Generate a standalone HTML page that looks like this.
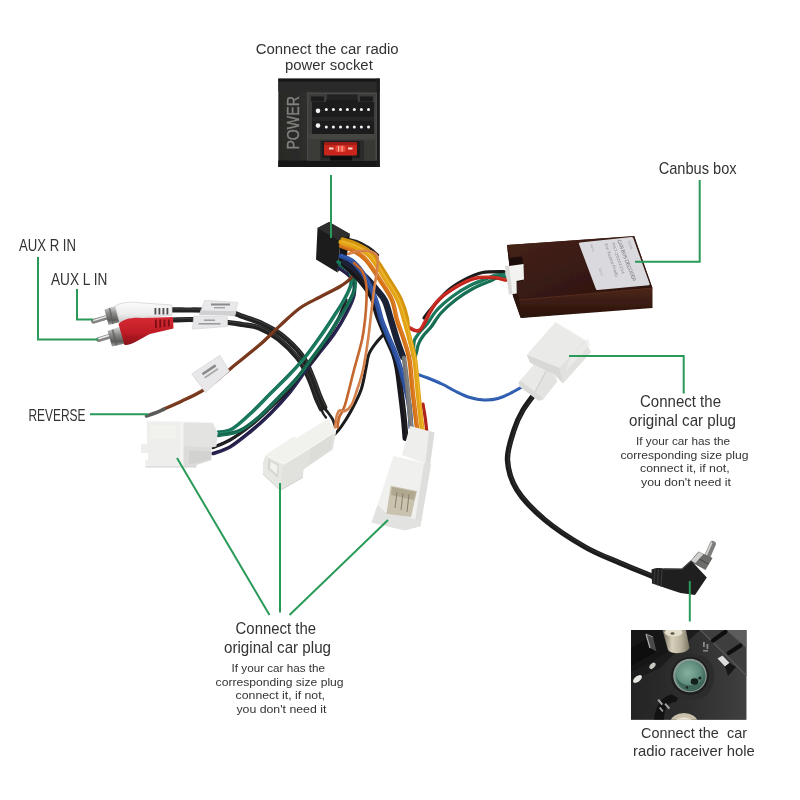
<!DOCTYPE html>
<html lang="en">
<head>
<meta charset="utf-8">
<title>Wiring harness connection guide</title>
<style>
html,body{margin:0;padding:0;background:#fff;}
body{width:800px;height:800px;overflow:hidden;position:relative;font-family:"Liberation Sans",sans-serif;}
svg{position:absolute;left:0;top:0;display:block;}
.t{font-family:"Liberation Sans",sans-serif;fill:#333;}
.g{stroke:#2a9a58;stroke-width:2;fill:none;}
.w{fill:none;stroke-linecap:round;stroke-linejoin:round;}
</style>
</head>
<body>
<svg width="800" height="800" viewBox="0 0 800 800">
<defs>
<linearGradient id="gWhite" x1="0" y1="0" x2="0" y2="1"><stop offset="0" stop-color="#f6f6f4"/><stop offset="1" stop-color="#dcdcd8"/></linearGradient>
<linearGradient id="gMetal" x1="0" y1="0" x2="0" y2="1"><stop offset="0" stop-color="#e8e8e8"/><stop offset=".5" stop-color="#9a9a9a"/><stop offset="1" stop-color="#d0d0d0"/></linearGradient>
<filter id="soft" x="-5%" y="-5%" width="110%" height="110%"><feGaussianBlur stdDeviation="0.6"/></filter>
</defs>
<rect width="800" height="800" fill="#fff"/>

<!-- ===== PHOTO / DRAWING LAYER ===== -->
<g id="art" filter="url(#soft)">
<g id="powerphoto">
<defs>
<linearGradient id="ppBg" x1="0" y1="0" x2="1" y2="0"><stop offset="0" stop-color="#282826"/><stop offset=".3" stop-color="#2e2e2c"/><stop offset="1" stop-color="#2a2a28"/></linearGradient>
</defs>
<rect x="278.3" y="78.6" width="101.4" height="88.4" fill="url(#ppBg)"/>
<rect x="278.3" y="78.6" width="101.4" height="3.2" fill="#181818"/>
<rect x="278.3" y="81.8" width="101.4" height="9.5" fill="#2c2c2a"/>
<rect x="278.3" y="160.5" width="101.4" height="6.5" fill="#161616"/>
<rect x="376.5" y="78.6" width="3.2" height="88.4" fill="#1e1e1e"/>
<!-- connector frame -->
<rect x="307" y="92.5" width="70" height="68" fill="#4a4a48"/>
<rect x="308.5" y="94" width="67" height="66" fill="#3c3c3a"/>
<rect x="311" y="96.5" width="13" height="5" fill="#1a1a1a"/>
<rect x="360" y="96.5" width="13" height="5" fill="#1a1a1a"/>
<rect x="327" y="94.5" width="30.5" height="8" fill="#222"/>
<!-- pin cavity -->
<rect x="312" y="102" width="62" height="32" fill="#1d1d1d"/>
<rect x="326" y="100" width="32" height="4" fill="#1d1d1d"/>
<rect x="312" y="117" width="62" height="4" fill="#262626"/>
<g fill="#f4f4f4">
<ellipse cx="318" cy="110.8" rx="2.3" ry="2.4"/><ellipse cx="318" cy="125.6" rx="2.3" ry="2.4"/>
<circle cx="326.3" cy="109.5" r="1.5"/><circle cx="333.4" cy="109.5" r="1.5"/><circle cx="340.5" cy="109.5" r="1.5"/><circle cx="347.4" cy="109.5" r="1.5"/><circle cx="354.3" cy="109.5" r="1.5"/><circle cx="361.4" cy="109.5" r="1.5"/><circle cx="368.5" cy="109.5" r="1.5"/>
<circle cx="326.3" cy="127" r="1.5"/><circle cx="333.4" cy="127" r="1.5"/><circle cx="340.5" cy="127" r="1.5"/><circle cx="347.4" cy="127" r="1.5"/><circle cx="354.3" cy="127" r="1.5"/><circle cx="361.4" cy="127" r="1.5"/><circle cx="368.5" cy="127" r="1.5"/>
</g>
<!-- lower band -->
<rect x="308.5" y="134" width="67" height="5" fill="#444442"/>
<!-- fuse slot -->
<rect x="320" y="140.5" width="44" height="20" fill="#2a2a2a"/>
<rect x="322" y="141" width="38" height="17" fill="#1a1a1a"/>
<rect x="324" y="142" width="33" height="13.5" rx="1.5" fill="#c8261e"/>
<rect x="324" y="142" width="33" height="3" rx="1.5" fill="#a01a14"/>
<rect x="329" y="147.5" width="4.5" height="2" fill="#ffd8d0"/>
<rect x="348" y="147.5" width="4.5" height="2" fill="#ffd8d0"/>
<rect x="335.5" y="145.5" width="10" height="6.5" rx="2" fill="#e8483a"/>
<rect x="338" y="146" width="1.2" height="5.5" fill="#ffb0a0"/><rect x="341.5" y="146" width="1.2" height="5.5" fill="#ffb0a0"/>
<rect x="330" y="156" width="22" height="4.5" fill="#111"/>
<rect x="364" y="140.500" width="11" height="20" fill="#383836"/>
<rect x="308.500" y="139" width="11.500" height="21.500" fill="#3a3a38"/>
<text transform="translate(298.9 149.6) rotate(-90)" font-family="Liberation Sans, sans-serif" font-size="16" fill="#82827e" stroke="#82827e" stroke-width=".35" textLength="53.5" lengthAdjust="spacingAndGlyphs">POWER</text>
</g>

<g id="iso">
<polygon points="317.5,228 329,222 350,234 340.500,241.500 337.500,272.500 316,259.500" fill="#1e1e1e"/>
<polygon points="317.5,228 329,222 350,234 340.500,241.500" fill="#2e2e2e"/>
<polygon points="340.500,241.500 350,234 346,262 337.500,272.500" fill="#161616"/>
</g>

<g id="wires">
<path class="w" d="M173.0 320.0C176.7 319.9 185.8 319.2 195.0 319.6C204.2 320.0 220.2 321.7 228.0 322.5C235.8 323.3 236.9 323.6 242.0 324.5C247.1 325.4 252.8 325.4 258.9 327.8C265.0 330.2 271.9 333.9 278.4 339.0C284.9 344.1 292.9 352.1 298.0 358.5C303.0 365.0 305.7 371.3 308.8 377.8C311.8 384.3 314.2 392.5 316.2 397.7C318.3 402.9 320.4 406.9 321.3 408.8" stroke="#222220" stroke-width="5.2" stroke-linecap="round"/>
<path class="w" d="M173.0 319.1C176.7 319.0 185.9 318.2 195.0 318.7C204.2 319.1 220.2 320.8 228.1 321.6C235.9 322.4 237.0 322.7 242.2 323.6C247.3 324.5 253.1 324.5 259.2 326.9C265.4 329.4 272.4 333.1 279.0 338.3C285.6 343.4 293.6 351.4 298.7 358.0C303.8 364.5 306.5 370.8 309.6 377.4C312.7 383.9 315.0 392.2 317.1 397.4C319.2 402.5 321.3 406.6 322.1 408.4" stroke="#555" stroke-width="1.0" stroke-linecap="round" opacity=".55"/>
<path class="w" d="M171.0 309.8C173.5 309.8 180.8 309.9 186.0 310.0C191.2 310.1 194.3 309.7 202.0 310.2C209.7 310.7 225.3 312.0 232.0 313.0C238.7 314.0 237.1 314.6 242.0 316.3C246.9 318.0 254.5 320.1 261.1 323.2C267.7 326.3 274.8 329.6 281.6 335.0C288.4 340.4 296.9 348.6 302.0 355.5C307.1 362.3 309.3 369.4 312.2 376.2C315.2 383.0 317.7 391.1 319.8 396.3C321.8 401.5 323.9 405.4 324.7 407.2" stroke="#222220" stroke-width="5.2" stroke-linecap="round"/>
<path class="w" d="M171.0 308.9C173.5 308.9 180.8 309.0 186.0 309.1C191.2 309.1 194.4 308.8 202.1 309.3C209.7 309.8 225.4 311.0 232.1 312.1C238.8 313.1 237.4 313.7 242.3 315.4C247.2 317.1 254.9 319.2 261.5 322.4C268.2 325.5 275.3 328.8 282.2 334.3C289.0 339.7 297.6 348.0 302.8 354.9C307.9 361.8 310.1 369.0 313.1 375.8C316.1 382.7 318.5 390.8 320.6 395.9C322.7 401.1 324.8 405.0 325.6 406.8" stroke="#555" stroke-width="1.0" stroke-linecap="round" opacity=".55"/>
<path class="w" d="M322.5 406.0C323.4 407.1 326.3 410.3 328.0 412.5C329.7 414.7 331.3 416.8 332.5 419.0C333.7 421.2 334.6 424.8 335.0 426.0" stroke="#222220" stroke-width="2.8" stroke-linecap="round"/>
<path class="w" d="M320.5 408.0C321.0 409.0 322.6 412.4 323.5 414.0C324.4 415.6 325.6 416.9 326.0 417.5" stroke="#222220" stroke-width="2.4" stroke-linecap="round"/>
<path class="w" d="M536.0 392.0C533.8 395.0 526.7 403.7 523.0 410.0C519.3 416.3 516.6 421.7 514.0 430.0C511.4 438.3 507.0 450.0 507.5 460.0C508.0 470.0 510.8 480.0 517.0 490.0C523.2 500.0 533.7 510.5 545.0 520.0C556.3 529.5 572.5 539.8 585.0 547.0C597.5 554.2 608.7 558.1 620.0 563.0C631.3 567.9 647.5 574.2 653.0 576.5" stroke="#1c1c1c" stroke-width="5.4" stroke-linecap="round"/>
<path class="w" d="M536.8 392.6C534.6 395.6 527.5 404.2 523.8 410.5C520.2 416.8 517.5 422.0 514.9 430.3C512.4 438.5 508.0 450.1 508.5 460.0C509.0 469.8 511.6 479.6 517.8 489.5C524.0 499.4 534.3 509.8 545.6 519.3C556.9 528.7 573.0 539.0 585.5 546.2C597.9 553.3 609.1 557.2 620.4 562.1C631.7 567.0 647.9 573.4 653.4 575.6" stroke="#444" stroke-width="1.0" stroke-linecap="round" opacity=".55"/>
<path class="w" d="M339.0 268.0C341.2 269.8 349.5 274.5 352.0 279.0C354.5 283.5 355.0 289.2 354.0 295.0C353.0 300.8 349.3 307.5 346.0 314.0C342.7 320.5 338.3 327.7 334.0 334.0C329.7 340.3 324.7 346.0 320.0 352.0C315.3 358.0 311.0 363.3 306.0 370.0C301.0 376.7 296.0 384.7 290.0 392.0C284.0 399.3 276.7 407.3 270.0 414.0C263.3 420.7 256.7 426.5 250.0 432.0C243.3 437.5 236.2 443.4 230.0 447.0C223.8 450.6 215.8 452.4 213.0 453.5" stroke="#211e46" stroke-width="3.6" stroke-linecap="round"/>
<path class="w" d="M339.4 267.5C341.6 269.4 350.0 274.1 352.6 278.7C355.1 283.3 355.6 289.2 354.6 295.1C353.6 301.0 349.9 307.8 346.6 314.3C343.2 320.8 338.9 328.0 334.5 334.4C330.2 340.7 325.2 346.4 320.5 352.4C315.8 358.4 311.5 363.7 306.5 370.4C301.5 377.1 296.5 385.1 290.5 392.4C284.5 399.8 277.1 407.8 270.5 414.5C263.8 421.1 257.1 427.0 250.4 432.5C243.7 438.0 236.5 444.0 230.3 447.6C224.1 451.2 216.1 453.0 213.2 454.1" stroke="#45437a" stroke-width="0.8" stroke-linecap="round" opacity=".55"/>
<path class="w" d="M346.0 300.0C344.7 303.3 341.3 313.3 338.0 320.0C334.7 326.7 330.0 333.7 326.0 340.0C322.0 346.3 318.0 352.7 314.0 358.0C310.0 363.3 306.0 367.0 302.0 372.0C298.0 377.0 295.3 382.0 290.0 388.0C284.7 394.0 276.7 401.7 270.0 408.0C263.3 414.3 256.7 420.7 250.0 426.0C243.3 431.3 236.2 436.4 230.0 440.0C223.8 443.6 215.8 446.2 213.0 447.5" stroke="#1c1c20" stroke-width="3.4" stroke-linecap="round"/>
<path class="w" d="M346.6 300.2C345.2 303.6 341.9 313.6 338.5 320.3C335.2 327.0 330.5 334.0 326.5 340.3C322.5 346.7 318.5 353.0 314.5 358.4C310.5 363.7 306.5 367.4 302.5 372.4C298.5 377.4 295.8 382.4 290.5 388.4C285.1 394.4 277.1 402.1 270.4 408.4C263.7 414.8 257.1 421.1 250.4 426.5C243.7 431.8 236.5 436.9 230.3 440.5C224.1 444.1 216.1 446.8 213.2 448.1" stroke="#404040" stroke-width="0.8" stroke-linecap="round" opacity=".55"/>
<path class="w" d="M340.0 265.0C342.0 266.3 349.5 269.3 352.0 273.0C354.5 276.7 355.7 281.8 355.0 287.0C354.3 292.2 350.8 298.5 348.0 304.0C345.2 309.5 341.7 314.2 338.0 320.0C334.3 325.8 330.3 332.7 326.0 339.0C321.7 345.3 316.7 351.7 312.0 358.0C307.3 364.3 303.3 370.7 298.0 377.0C292.7 383.3 286.3 389.5 280.0 396.0C273.7 402.5 266.7 410.2 260.0 416.0C253.3 421.8 247.0 427.2 240.0 430.5C233.0 433.8 221.7 434.7 218.0 435.5" stroke="#12654e" stroke-width="3.6" stroke-linecap="round"/>
<path class="w" d="M340.4 264.5C342.4 265.8 350.0 268.9 352.5 272.6C355.1 276.4 356.3 281.8 355.6 287.1C355.0 292.4 351.4 298.8 348.6 304.3C345.7 309.8 342.2 314.5 338.5 320.3C334.9 326.2 330.9 333.0 326.5 339.4C322.2 345.7 317.2 352.0 312.5 358.4C307.8 364.7 303.8 371.1 298.5 377.4C293.2 383.8 286.8 389.9 280.5 396.5C274.1 403.0 267.1 410.7 260.4 416.5C253.7 422.3 247.3 427.8 240.3 431.1C233.2 434.4 221.8 435.3 218.1 436.1" stroke="#2e9474" stroke-width="0.8" stroke-linecap="round" opacity=".55"/>
<path class="w" d="M338.0 262.0C339.8 263.3 346.8 266.3 349.0 270.0C351.2 273.7 351.8 279.0 351.0 284.0C350.2 289.0 346.8 294.7 344.0 300.0C341.2 305.3 337.7 310.3 334.0 316.0C330.3 321.7 326.7 327.3 322.0 334.0C317.3 340.7 311.3 349.3 306.0 356.0C300.7 362.7 296.0 367.7 290.0 374.0C284.0 380.3 276.7 387.3 270.0 394.0C263.3 400.7 256.3 408.2 250.0 414.0C243.7 419.8 237.5 425.9 232.0 429.0C226.5 432.1 219.5 431.9 217.0 432.5" stroke="#167258" stroke-width="3.6" stroke-linecap="round"/>
<path class="w" d="M338.4 261.5C340.2 262.8 347.3 265.9 349.6 269.7C351.8 273.4 352.5 279.0 351.6 284.1C350.8 289.2 347.4 294.9 344.6 300.3C341.7 305.7 338.2 310.7 334.5 316.4C330.9 322.0 327.2 327.7 322.5 334.4C317.9 341.0 311.8 349.7 306.5 356.4C301.2 363.1 296.5 368.1 290.5 374.4C284.5 380.8 277.1 387.8 270.5 394.5C263.8 401.1 256.8 408.6 250.4 414.5C244.1 420.3 237.9 426.5 232.3 429.6C226.8 432.7 219.7 432.5 217.1 433.1" stroke="#38a080" stroke-width="0.8" stroke-linecap="round" opacity=".55"/>
<path class="w" d="M163.0 409.5C166.2 408.1 175.7 404.0 182.0 401.0C188.3 398.0 195.3 394.8 201.0 391.5C206.7 388.2 211.0 384.9 216.0 381.0C221.0 377.1 223.7 374.3 231.0 368.2C238.3 362.1 251.8 351.7 260.0 344.6C268.2 337.5 273.3 331.7 280.0 325.6C286.7 319.5 293.3 312.8 300.0 308.0C306.7 303.2 313.3 300.6 320.0 297.0C326.7 293.4 334.8 289.7 340.0 286.5C345.2 283.3 348.3 281.1 351.0 278.0C353.7 274.9 355.2 269.7 356.0 268.0" stroke="#74341a" stroke-width="3.3" stroke-linecap="round"/>
<path class="w" d="M162.8 409.0C165.9 407.5 175.4 403.5 181.7 400.5C188.1 397.5 195.1 394.3 200.7 391.0C206.3 387.7 210.6 384.4 215.6 380.5C220.6 376.7 223.3 373.8 230.6 367.7C238.0 361.7 251.4 351.2 259.6 344.2C267.8 337.1 272.9 331.3 279.6 325.2C286.3 319.1 293.0 312.3 299.7 307.5C306.3 302.7 313.0 300.1 319.7 296.5C326.4 292.9 334.6 289.1 339.7 286.0C344.8 282.8 347.9 280.7 350.6 277.6C353.2 274.6 354.6 269.4 355.5 267.7" stroke="#9c5832" stroke-width="0.8" stroke-linecap="round" opacity=".55"/>
<path class="w" d="M146.5 416.0C147.9 415.5 152.1 414.1 155.0 413.0C157.9 411.9 162.5 409.8 164.0 409.2" stroke="#5a5a58" stroke-width="3.6" stroke-linecap="round"/>
<path class="w" d="M386.0 332.0C384.3 333.8 378.8 339.3 376.0 343.0C373.2 346.7 370.7 349.8 369.0 354.0C367.3 358.2 367.3 362.0 366.0 368.0C364.7 374.0 363.5 382.8 361.0 390.0C358.5 397.2 354.3 404.8 351.0 411.0C347.7 417.2 343.8 423.0 341.0 427.0C338.2 431.0 335.2 433.7 334.0 435.0" stroke="#1a1a1a" stroke-width="3.0" stroke-linecap="round"/>
<path class="w" d="M414.5 360.0C414.8 358.7 415.8 354.7 416.5 352.0C417.2 349.3 417.4 346.7 418.5 344.0C419.6 341.3 420.9 338.8 423.0 336.0C425.1 333.2 428.0 330.8 431.0 327.0C434.0 323.2 436.8 317.6 441.0 313.0C445.2 308.4 450.7 303.6 456.0 299.5C461.3 295.4 467.5 291.5 473.0 288.5C478.5 285.5 485.0 283.2 489.0 281.5C493.0 279.8 494.3 278.8 497.0 278.0C499.7 277.2 503.7 277.2 505.0 277.0" stroke="#146a50" stroke-width="3.3" stroke-linecap="round"/>
<path class="w" d="M413.9 359.9C414.3 358.5 415.3 354.5 415.9 351.9C416.6 349.2 416.9 346.5 417.9 343.8C419.0 341.1 420.4 338.5 422.5 335.6C424.6 332.8 427.5 330.5 430.5 326.6C433.5 322.8 436.4 317.2 440.6 312.6C444.7 308.0 450.3 303.1 455.6 299.0C461.0 294.9 467.2 291.0 472.7 288.0C478.2 285.0 484.7 282.7 488.8 281.0C492.8 279.2 494.1 278.2 496.8 277.4C499.5 276.7 503.6 276.6 504.9 276.4" stroke="#3a9a7a" stroke-width="0.7" stroke-linecap="round" opacity=".55"/>
<path class="w" d="M413.0 356.0C413.1 354.7 413.2 350.7 413.5 348.0C413.8 345.3 413.6 342.5 414.5 340.0C415.4 337.5 416.9 335.7 419.0 333.0C421.1 330.3 424.0 327.8 427.0 324.0C430.0 320.2 432.7 314.7 437.0 310.0C441.3 305.3 447.5 300.1 453.0 296.0C458.5 291.9 464.5 288.3 470.0 285.5C475.5 282.7 482.0 280.7 486.0 279.0C490.0 277.3 491.0 276.3 494.0 275.5C497.0 274.7 502.3 274.4 504.0 274.2" stroke="#177458" stroke-width="3.3" stroke-linecap="round"/>
<path class="w" d="M412.4 356.0C412.5 354.6 412.7 350.6 412.9 347.9C413.2 345.2 413.0 342.3 413.9 339.8C414.9 337.2 416.4 335.3 418.5 332.6C420.6 329.9 423.5 327.5 426.5 323.6C429.5 319.8 432.2 314.3 436.6 309.6C440.9 304.9 447.1 299.6 452.6 295.5C458.2 291.4 464.2 287.8 469.7 285.0C475.2 282.1 481.8 280.1 485.8 278.5C489.8 276.8 490.8 275.7 493.8 274.9C496.9 274.1 502.2 273.8 503.9 273.6" stroke="#3a9a7a" stroke-width="0.7" stroke-linecap="round" opacity=".55"/>
<path class="w" d="M424.0 318.0C425.0 316.7 426.1 314.5 430.0 310.0C433.9 305.5 441.7 296.1 447.5 291.0C453.3 285.9 459.2 282.6 465.0 279.5C470.8 276.4 476.0 273.8 482.5 272.5C489.0 271.2 500.4 271.7 504.0 271.5" stroke="#1c1c1c" stroke-width="3.2" stroke-linecap="round"/>
<path class="w" d="M409.0 327.5C410.0 328.0 413.2 330.1 415.0 330.5C416.8 330.9 418.3 331.4 420.0 330.0C421.7 328.6 423.3 325.0 425.0 322.0C426.7 319.0 427.7 315.8 430.0 312.0C432.3 308.2 434.7 303.7 439.0 299.5C443.3 295.3 450.2 290.5 456.0 287.0C461.8 283.5 467.8 280.1 474.0 278.5C480.2 276.9 487.7 277.2 493.0 277.5C498.3 277.8 503.8 279.6 506.0 280.0" stroke="#c0201a" stroke-width="3.6" stroke-linecap="round"/>
<path class="w" d="M409.3 326.9C410.3 327.4 413.4 329.4 415.1 329.9C416.9 330.3 418.0 330.9 419.6 329.5C421.1 328.1 422.8 324.7 424.4 321.7C426.1 318.7 427.1 315.4 429.4 311.7C431.8 307.9 434.2 303.2 438.6 299.0C442.9 294.8 449.8 290.0 455.7 286.4C461.5 282.9 467.6 279.5 473.8 277.9C480.1 276.3 487.6 276.6 493.0 276.9C498.4 277.1 503.9 278.9 506.1 279.4" stroke="#e8604e" stroke-width="0.8" stroke-linecap="round" opacity=".55"/>
<path class="w" d="M417.0 374.0C418.8 374.7 423.8 376.3 428.0 378.0C432.2 379.7 437.3 381.8 442.0 384.0C446.7 386.2 451.3 389.2 456.0 391.5C460.7 393.8 465.3 396.1 470.0 397.5C474.7 398.9 479.3 399.8 484.0 400.0C488.7 400.2 493.7 399.6 498.0 398.5C502.3 397.4 506.2 395.3 510.0 393.5C513.8 391.7 517.8 389.3 521.0 387.5C524.2 385.7 527.7 383.3 529.0 382.5" stroke="#2a58ac" stroke-width="3.0" stroke-linecap="round"/>
<path class="w" d="M417.2 373.5C419.0 374.2 424.0 375.8 428.2 377.5C432.4 379.2 437.6 381.3 442.2 383.5C446.9 385.8 451.6 388.8 456.2 391.0C460.9 393.3 465.5 395.6 470.2 397.0C474.8 398.4 479.4 399.3 484.0 399.5C488.6 399.6 493.6 399.1 497.9 398.0C502.2 396.9 506.0 394.8 509.8 393.0C513.6 391.2 517.6 388.9 520.7 387.0C523.9 385.2 527.4 382.9 528.7 382.0" stroke="#5a88d8" stroke-width="0.7" stroke-linecap="round" opacity=".55"/>
<path class="w" d="M341.0 237.8C343.5 238.3 351.3 239.4 356.0 241.0C360.7 242.6 365.3 245.2 369.0 247.5C372.7 249.8 376.5 253.8 378.0 255.0" stroke="#222" stroke-width="2.4" stroke-linecap="round"/>
<path class="w" d="M344.0 264.0C346.7 266.7 355.3 274.5 360.0 280.0C364.7 285.5 369.0 291.0 372.0 297.0C375.0 303.0 375.5 309.2 378.0 316.0C380.5 322.8 384.3 331.7 387.0 338.0C389.7 344.3 392.2 349.0 394.0 354.0C395.8 359.0 396.4 362.0 397.5 368.0C398.6 374.0 399.4 381.3 400.5 390.0C401.6 398.7 403.2 412.0 404.0 420.0C404.8 428.0 405.2 435.0 405.5 438.0" stroke="#19191b" stroke-width="6.0" stroke-linecap="round"/>
<path class="w" d="M344.8 263.2C347.4 265.9 356.1 273.8 360.8 279.3C365.5 284.8 369.9 290.5 373.0 296.5C376.0 302.6 376.5 308.8 379.0 315.6C381.5 322.5 385.3 331.2 388.0 337.6C390.7 343.9 393.3 348.6 395.0 353.6C396.8 358.7 397.5 361.8 398.6 367.8C399.7 373.8 400.5 381.2 401.6 389.9C402.7 398.5 404.2 411.9 405.1 419.9C405.9 427.9 406.3 434.9 406.6 437.9" stroke="#3c3c3c" stroke-width="0.8" stroke-linecap="round" opacity=".55"/>
<path class="w" d="M345.0 262.0C348.2 264.3 358.8 271.5 364.0 276.0C369.2 280.5 372.5 284.8 376.0 289.0C379.5 293.2 382.5 295.8 385.0 301.0C387.5 306.2 389.0 313.5 391.0 320.0C393.0 326.5 395.0 333.8 397.0 340.0C399.0 346.2 402.0 354.2 403.0 357.0" stroke="#1e2034" stroke-width="6.4" stroke-linecap="round"/>
<path class="w" d="M341.0 256.0C342.8 256.8 348.5 258.3 352.0 261.0C355.5 263.7 358.8 267.5 362.0 272.0C365.2 276.5 368.5 282.7 371.0 288.0C373.5 293.3 375.2 298.7 377.0 304.0C378.8 309.3 379.8 314.8 381.5 320.0C383.2 325.2 385.4 330.0 387.5 335.0C389.6 340.0 392.2 345.5 394.0 350.0C395.8 354.5 397.1 357.7 398.5 362.0C399.9 366.3 401.2 371.0 402.5 376.0C403.8 381.0 405.3 386.7 406.5 392.0C407.7 397.3 408.8 402.0 409.5 408.0C410.2 414.0 410.8 424.7 411.0 428.0" stroke="#2a4f9e" stroke-width="5.0" stroke-linecap="round"/>
<path class="w" d="M341.4 255.2C343.2 256.0 349.0 257.6 352.5 260.3C356.1 263.0 359.5 266.9 362.7 271.5C365.9 276.0 369.3 282.2 371.8 287.6C374.3 293.0 376.1 298.4 377.9 303.7C379.6 309.1 380.6 314.6 382.4 319.7C384.1 324.9 386.3 329.7 388.3 334.7C390.4 339.6 393.0 345.1 394.8 349.7C396.7 354.2 397.9 357.4 399.4 361.7C400.8 366.1 402.0 370.8 403.4 375.8C404.7 380.8 406.2 386.5 407.4 391.8C408.5 397.2 409.6 401.9 410.4 407.9C411.1 413.9 411.6 424.6 411.9 427.9" stroke="#5078c8" stroke-width="1.0" stroke-linecap="round" opacity=".55"/>
<path class="w" d="M404.0 358.0C404.4 361.3 405.8 371.3 406.5 378.0C407.2 384.7 407.8 391.0 408.5 398.0C409.2 405.0 410.0 414.5 410.5 420.0C411.0 425.5 411.3 429.2 411.5 431.0" stroke="#777775" stroke-width="4.6" stroke-linecap="round"/>
<path class="w" d="M404.8 357.9C405.2 361.2 406.6 371.2 407.3 377.9C408.1 384.6 408.7 390.9 409.3 397.9C410.0 404.9 410.8 414.4 411.3 419.9C411.8 425.4 412.2 429.1 412.3 430.9" stroke="#9a9a98" stroke-width="0.9" stroke-linecap="round" opacity=".55"/>
<path class="w" d="M423.0 404.0C423.4 406.7 424.9 415.3 425.5 420.0C426.1 424.7 426.6 430.0 426.8 432.0" stroke="#b0241c" stroke-width="3.2" stroke-linecap="round"/>
<path class="w" d="M341.0 246.0C343.2 246.8 349.8 248.7 354.0 251.0C358.2 253.3 361.7 255.2 366.0 260.0C370.3 264.8 375.7 273.3 380.0 280.0C384.3 286.7 389.2 293.3 392.0 300.0C394.8 306.7 395.0 313.3 397.0 320.0C399.0 326.7 401.9 333.3 404.0 340.0C406.1 346.7 408.1 351.7 409.5 360.0C410.9 368.3 411.4 380.0 412.5 390.0C413.6 400.0 415.2 413.3 416.0 420.0C416.8 426.7 417.0 428.3 417.2 430.0" stroke="#d47016" stroke-width="4.4" stroke-linecap="round"/>
<path class="w" d="M341.3 245.3C343.5 246.1 350.2 247.9 354.4 250.3C358.6 252.7 362.2 254.6 366.6 259.5C371.0 264.3 376.3 272.9 380.7 279.6C385.0 286.3 389.9 293.0 392.7 299.7C395.6 306.4 395.8 313.1 397.8 319.8C399.8 326.5 402.7 333.1 404.8 339.8C406.8 346.4 408.9 351.5 410.3 359.9C411.7 368.2 412.2 379.9 413.3 389.9C414.4 399.9 416.0 413.2 416.8 419.9C417.6 426.6 417.8 428.2 418.0 429.9" stroke="#ee9840" stroke-width="1.0" stroke-linecap="round" opacity=".55"/>
<path class="w" d="M342.1 238.8C344.6 239.6 352.4 241.4 357.5 243.9C362.6 246.4 367.3 248.0 372.5 253.7C377.7 259.4 384.1 270.7 388.9 278.2C393.6 285.7 397.9 291.8 401.1 298.6C404.2 305.4 406.5 312.7 407.7 318.9C409.0 325.2 407.8 330.8 408.5 336.0C409.2 341.2 411.4 347.7 412.0 350.0" stroke="#d2940e" stroke-width="3.0" stroke-linecap="round"/>
<path class="w" d="M341.0 242.0C343.5 242.8 351.2 244.7 356.0 247.0C360.8 249.3 365.0 250.5 370.0 256.0C375.0 261.5 381.3 272.7 386.0 280.0C390.7 287.3 394.9 293.3 398.0 300.0C401.1 306.7 402.5 313.3 404.5 320.0C406.5 326.7 408.3 333.3 410.0 340.0C411.7 346.7 413.5 351.7 414.8 360.0C416.1 368.3 416.8 380.0 417.8 390.0C418.8 400.0 420.2 413.2 421.0 420.0C421.8 426.8 422.2 429.2 422.5 431.0" stroke="#e2a416" stroke-width="5.0" stroke-linecap="round"/>
<path class="w" d="M341.3 241.1C343.8 242.0 351.5 243.8 356.4 246.2C361.3 248.6 365.6 249.8 370.7 255.4C375.7 260.9 382.1 272.1 386.8 279.5C391.5 286.9 395.7 292.9 398.8 299.6C401.9 306.3 403.4 313.0 405.4 319.7C407.4 326.4 409.2 333.1 410.9 339.8C412.6 346.5 414.4 351.5 415.7 359.9C417.0 368.2 417.7 379.9 418.7 389.9C419.7 399.9 421.1 413.1 421.9 419.9C422.7 426.7 423.1 429.0 423.4 430.9" stroke="#f6c848" stroke-width="1.1" stroke-linecap="round" opacity=".55"/>
<path class="w" d="M354.0 263.0C355.3 264.3 360.0 267.7 362.0 271.0C364.0 274.3 365.2 278.2 366.0 283.0C366.8 287.8 366.7 293.8 366.5 300.0C366.3 306.2 365.8 313.3 365.0 320.0C364.2 326.7 363.8 331.7 362.0 340.0C360.2 348.3 356.2 361.7 354.0 370.0C351.8 378.3 350.5 384.2 349.0 390.0C347.5 395.8 346.2 401.3 345.0 405.0C343.8 408.7 343.0 409.8 342.0 412.0C341.0 414.2 339.8 415.4 339.0 418.0C338.2 420.6 337.8 425.9 337.5 427.5" stroke="#c06228" stroke-width="2.6" stroke-linecap="round"/>
<path class="w" d="M354.3 262.7C355.7 264.0 360.4 267.4 362.4 270.8C364.4 274.1 365.7 278.1 366.5 282.9C367.2 287.8 367.1 293.8 367.0 300.0C366.8 306.2 366.2 313.4 365.5 320.1C364.7 326.7 364.3 331.8 362.5 340.1C360.6 348.4 356.6 361.8 354.5 370.1C352.3 378.5 351.0 384.3 349.5 390.1C348.0 396.0 346.6 401.5 345.4 405.1C344.3 408.8 343.4 410.0 342.4 412.2C341.4 414.4 340.2 415.6 339.4 418.1C338.7 420.7 338.2 426.0 338.0 427.6" stroke="#e08e58" stroke-width="0.6" stroke-linecap="round" opacity=".55"/>
<path class="w" d="M348.0 254.0C350.0 253.5 356.2 251.4 360.0 251.0C363.8 250.6 368.1 250.5 371.0 251.5C373.9 252.5 376.5 253.9 377.5 257.0C378.5 260.1 377.6 264.5 377.0 270.0C376.4 275.5 375.0 282.5 374.0 290.0C373.0 297.5 372.0 306.7 371.0 315.0C370.0 323.3 369.3 330.8 368.0 340.0C366.7 349.2 364.8 361.7 363.0 370.0C361.2 378.3 358.9 384.2 357.0 390.0C355.1 395.8 353.5 401.5 351.5 405.0C349.5 408.5 347.0 410.1 345.0 411.0C343.0 411.9 340.8 409.8 339.5 410.5C338.2 411.2 337.6 413.4 337.0 415.0C336.4 416.6 336.3 417.9 336.0 420.0C335.7 422.1 335.2 426.2 335.0 427.5" stroke="#d07c44" stroke-width="2.6" stroke-linecap="round"/>
<path class="w" d="M347.9 253.5C349.9 253.0 356.1 250.9 359.9 250.5C363.8 250.1 368.2 250.0 371.2 251.1C374.2 252.1 376.9 253.7 377.9 256.9C379.0 260.0 378.0 264.5 377.5 270.0C376.9 275.6 375.5 282.6 374.5 290.1C373.5 297.6 372.5 306.7 371.5 315.1C370.5 323.4 369.8 330.9 368.5 340.1C367.1 349.2 365.3 361.8 363.5 370.1C361.6 378.4 359.4 384.3 357.4 390.1C355.5 396.0 353.9 401.7 351.9 405.2C349.9 408.8 347.2 410.5 345.2 411.4C343.2 412.4 341.0 410.3 339.7 410.9C338.4 411.5 338.0 413.6 337.4 415.2C336.9 416.7 336.8 418.0 336.5 420.1C336.1 422.1 335.6 426.3 335.5 427.6" stroke="#f0ac80" stroke-width="0.6" stroke-linecap="round" opacity=".55"/>
</g>

<g id="rca">
<defs>
<linearGradient id="rcaMetal" x1="0" y1="0" x2="0" y2="1"><stop offset="0" stop-color="#dcdcdc"/><stop offset=".4" stop-color="#8c8c8a"/><stop offset=".75" stop-color="#5c5c5a"/><stop offset="1" stop-color="#a6a6a4"/></linearGradient>
<linearGradient id="rcaWhite" x1="0" y1="0" x2="0" y2="1"><stop offset="0" stop-color="#fbfbfb"/><stop offset=".6" stop-color="#ececec"/><stop offset="1" stop-color="#c8c8c8"/></linearGradient>
<linearGradient id="rcaRed" x1="0" y1="0" x2="0" y2="1"><stop offset="0" stop-color="#d62a34"/><stop offset=".55" stop-color="#c01c26"/><stop offset="1" stop-color="#861018"/></linearGradient>
</defs>
<!-- white plug (upper) -->
<path d="M93.500 321.300L108 316.800" stroke="url(#rcaMetal)" stroke-width="4.6" stroke-linecap="round"/>
<path d="M93.500 321.300L108 316.800" stroke="#868684" stroke-width="4.400" stroke-linecap="round"/>
<path d="M94 320.400L108 316" stroke="#e8e8e8" stroke-width="1.400" stroke-linecap="round"/>
<polygon points="104.500,309.500 116.500,305.500 120.500,322 108.500,325" fill="url(#rcaMetal)"/>
<path d="M109.500 308L113 324" stroke="#5c5c5a" stroke-width="1.600" opacity=".7"/>
<path d="M115 306C121 302.300 131 301.300 140 302.800L172 305L172 315.300L150 317C140 320 128 323 119.500 322Z" fill="url(#rcaWhite)" stroke="#cfcfcf" stroke-width=".7"/>
<g fill="#4e4e4e"><rect x="154.500" y="308" width="1.800" height="6.500"/><rect x="158.500" y="308" width="1.800" height="6.500"/><rect x="162.500" y="308" width="1.800" height="6.500"/><rect x="166.500" y="308" width="1.800" height="6.500"/></g>
<!-- red plug (lower) -->
<path d="M98.500 339.600L112 335.600" stroke="#868684" stroke-width="4.800" stroke-linecap="round"/>
<path d="M99 338.500L112 334.600" stroke="#ececec" stroke-width="1.600" stroke-linecap="round"/>
<polygon points="107.500,331 120.500,326.500 125.500,343.500 112,346.500" fill="url(#rcaMetal)"/>
<path d="M112.500 329.500L116.500 345.500" stroke="#5c5c5a" stroke-width="1.800" opacity=".7"/>
<path d="M118.500 324C123 318.800 133 317 142 318L173 317L173.500 328.500L150 334C140 339 132 345.500 124.500 345Z" fill="url(#rcaRed)"/>
<g fill="#7a0e12"><rect x="155" y="319.500" width="1.800" height="8.500"/><rect x="159.300" y="319.500" width="1.800" height="8"/><rect x="163.600" y="319.500" width="1.800" height="7.500"/><rect x="167.900" y="319.500" width="1.800" height="7"/></g>
<!-- labels -->
<polygon points="204.800,300.300 237.800,302.400 235,315.400 199.300,314.800" fill="#e9e9eb" stroke="#d2d2d4" stroke-width=".6"/>
<polygon points="200.500,310.600 236,311.200 235,315.400 199.300,314.800" fill="#d0d0d2"/>
<rect x="211" y="303.500" width="19" height="2" fill="#8a8a8c"/><rect x="214" y="307" width="11" height="1.400" fill="#a4a4a6"/>
<polygon points="193.750,316.100 227.500,316.800 227.500,326.500 192.400,329.200" fill="#e7e7e9" stroke="#d2d2d4" stroke-width=".6"/>
<rect x="204" y="319.500" width="11" height="1.400" fill="#9a9a9c"/><rect x="198.500" y="323" width="22" height="1.600" fill="#9c9c9e"/>
<polygon points="191.700,373.900 219.900,355.300 229.500,371.200 205.400,392.500" fill="#e8e8ea" stroke="#d2d2d4" stroke-width=".6"/>
<g transform="rotate(-34 210 373)"><rect x="203" y="368.500" width="16" height="2.600" fill="#8a8a8a"/><rect x="203" y="373" width="16" height="1.800" fill="#a8a8a8"/></g>
</g>

<g id="conn1">
<polygon points="147,421.200 212.500,422.500 217.500,432.500 216.300,446.300 211.300,447.500 211.300,460 196.300,465 196.300,467 145.600,467 145.600,460 148,460 148,453 141.300,453 141.300,444.400 147.500,444.400" fill="#e9e9e7"/>
<polygon points="147,421.200 181,422 181,467 145.600,467 145.600,460 148,460 148,453 141.300,453 141.300,444.400 147.500,444.400" fill="#eeeeec"/>
<polygon points="181,422 212.500,422.500 217.500,432.500 216.300,446.300 211.300,447.500 183,446" fill="#e3e3e1"/>
<polygon points="183,446 211.300,447.500 211.300,460 196.300,465 196.300,467 183,467" fill="#dbdbd9"/>
<rect x="180" y="422" width="3.500" height="45" fill="#f3f3f1"/>
<polygon points="189,450.500 211,451.500 211,459.500 194,463.500 189,463.500" fill="#d2d2d0"/>
<path d="M147 421.200L212.500 422.500" stroke="#f6f6f4" stroke-width="1.200"/>
<path d="M145.600 467L196.300 467" stroke="#d0d0ce" stroke-width="1"/>
<rect x="150" y="425" width="26" height="14" fill="#f2f2f0" opacity=".7"/>
</g>

<g id="conn2">
<polygon points="327.6,419.6 336,431.4 332.6,449.4 303.4,469.6 302.8,477.5 280.3,490.4 262.9,474.1 262.9,462.9 265.7,455 293.2,437 296.6,438.1" fill="#ebebe7"/>
<!-- top face -->
<polygon points="327.6,419.6 336,431.4 311,447.500 284,464 265.7,455 293.2,437 296.6,438.1" fill="#f1f1ed"/>
<!-- right-lower side face -->
<polygon points="336,431.4 332.6,449.4 303.4,469.6 302.8,477.5 280.3,490.4 282,466 311,447.500" fill="#e1e1dd"/>
<polygon points="311,447.500 332.600,433.800 331,449 308.500,464.500" fill="#dcdcd8"/>
<!-- front (left) face -->
<polygon points="265.7,455 284,464 282,467 280.300,490.400 262.900,474.100 262.900,462.900" fill="#e7e7e3"/>
<polygon points="268.500,459 279,464.500 278,478 267.500,468.500" fill="#d6d6d0"/>
<polygon points="270.500,461.500 277.500,465.500 277,474.500 270,468" fill="#f1f1ed"/>
<path d="M265.700 455L284 464L311 447.500L336 431.400" stroke="#fafaf8" stroke-width="1" fill="none"/>
<path d="M262.900 474.100L280.300 490.400L302.800 477.500" stroke="#d2d2ce" stroke-width="1" fill="none"/>
</g>

<g id="conn3">
<polygon points="410,426 434.500,432.500 430,465 402,455" fill="#eeeeec"/>
<polygon points="429,431 434.500,432.500 430,465 425.500,463" fill="#dcdcda"/>
<polygon points="393.500,456 431,464.500 420.500,526 405,530.500 371.500,522.500 377.500,505" fill="#f0f0ee"/>
<polygon points="424,463 431,464.500 420.500,526 414,528" fill="#dededc"/>
<polygon points="377.500,505 371.500,522.500 405,530.500 420.500,526 420,520 385,512" fill="#e2e2e0"/>
<polygon points="390.800,485.800 417,491 411,517 386.400,513.800" fill="#c9c2ae"/>
<polygon points="392,487 416,492 414,500 391,495" fill="#b0a890"/>
<g stroke="#8a8068" stroke-width="1" fill="none"><path d="M397 492L395 508"/><path d="M403 493L401 510"/><path d="M409 494L407 512"/></g>
</g>

<g id="canbus">
<defs>
<linearGradient id="cbTop" x1="0" y1="0" x2="1" y2="1"><stop offset="0" stop-color="#47231a"/><stop offset=".5" stop-color="#381a13"/><stop offset="1" stop-color="#2c140e"/></linearGradient>
<linearGradient id="cbFront" x1="0" y1="0" x2="0" y2="1"><stop offset="0" stop-color="#4c2618"/><stop offset="1" stop-color="#2a120c"/></linearGradient>
</defs>
<!-- whole silhouette -->
<polygon points="507,245 634.400,236.200 652,287.500 651.500,306.500 520.500,317.800 513,296" fill="#30160e"/>
<!-- top face -->
<polygon points="507,245 634,236 652.500,288 519,300" fill="url(#cbTop)"/>
<!-- front face -->
<polygon points="519,300 652.500,288 652.500,308 521,318" fill="url(#cbFront)"/>
<path d="M519 300L652.500 288" stroke="#5a3020" stroke-width="1.200" fill="none" opacity=".8"/>
<!-- left face -->
<polygon points="507,245 519,300 521,318 513,296" fill="#2a120c"/>
<!-- notch -->
<polygon points="509,258 522,256.500 523,264 521,264.500 522.500,281 516,282 517,294 512.500,294.500" fill="#1c0c08"/>
<!-- white plug -->
<polygon points="505.500,266.500 523.500,264 524,279.500 516.500,281 516.800,293.500 509,294.500" fill="#f2f2f0"/>
<polygon points="505,266 509,265.600 512.500,294 509,294.300" fill="#dadad8"/>
<!-- sticker -->
<path d="M580 242.400L631.500 237Q632.800 236.900 633.200 238L649.600 283.800Q650 285 648.800 285.200L597.500 289.900Q596.300 290 595.900 288.900L578.900 243.800Q578.500 242.600 580 242.400Z" fill="#dadade"/>
<g font-family="Liberation Sans, sans-serif" fill="#6c6c74">
<text transform="translate(617.2 240.5) rotate(69)" font-size="5.2" textLength="44" lengthAdjust="spacingAndGlyphs">CAN BUS DECODER</text>
<text transform="translate(611.5 243) rotate(71)" font-size="4" textLength="33" lengthAdjust="spacingAndGlyphs" fill="#8a8a92">PST-20201214</text>
<text transform="translate(604.5 244) rotate(71)" font-size="4.2" textLength="35" lengthAdjust="spacingAndGlyphs" fill="#8a8a92">For Toyota Prado</text>
<text transform="translate(590 244.5) rotate(71)" font-size="3.4" textLength="8" lengthAdjust="spacingAndGlyphs" fill="#9a9aa2">HW-V1</text>
<text transform="translate(598.5 268.5) rotate(71)" font-size="3.4" textLength="8" lengthAdjust="spacingAndGlyphs" fill="#9a9aa2">SW-V2</text>
<text transform="translate(627.5 241) rotate(71)" font-size="3.4" textLength="9" lengthAdjust="spacingAndGlyphs" fill="#9a9aa2">TOYOTA</text>
</g>
</g>
</g>

<g id="conn4">
<!-- lower block -->
<polygon points="536,362 518.400,382.500 519.600,386.400 538.100,400.500 542.600,399.900 557.200,381.400 556,372" fill="#e9e9e7"/>
<polygon points="547.500,368 557.200,381.400 542.600,399.900 534.700,392.600" fill="#e3e3e1"/>
<path d="M547.100 369L534.700 392.600" stroke="#d4d4d2" stroke-width="1.400" fill="none"/>
<polygon points="518.400,382.500 519.600,386.400 538.100,400.500 542.600,399.900 541,396.500 521,381" fill="#dadad8"/>
<!-- main block -->
<polygon points="555.600,322.300 585.400,340.300 591,352.100 562.900,383.600 555,374.600 530.200,362.800 526.900,354.900" fill="#e6e6e4"/>
<polygon points="555.600,322.300 585.400,340.300 559.500,367.900 526.900,354.900" fill="#eaeae8"/>
<polygon points="585.400,340.300 591,352.100 562.900,383.600 559.500,367.900" fill="#e1e1df"/>
<polygon points="571,356 588,338.500 590,345 565,372" fill="#ececea" opacity=".8"/>
<polygon points="526.900,354.900 559.500,367.900 562.900,383.600 555,374.600 530.200,362.800" fill="#d8d8d6"/>
<path d="M555.600 322.300L585.400 340.300L591 352.100" stroke="#f4f4f2" stroke-width="1" fill="none"/>
</g>

<g id="antenna">
<!-- pin -->
<path d="M707.500 556L712.800 544" stroke="#7e7e7c" stroke-width="6.2" stroke-linecap="round"/>
<path d="M706 555.500L711.500 543" stroke="#d8d8d6" stroke-width="1.800" stroke-linecap="round"/>
<!-- metal collar -->
<polygon points="690,561.5 698.5,551.5 712.500,558 705.500,570" fill="#6c6c6a"/>
<path d="M694.500 556.500L708.500 564" stroke="#4a4a48" stroke-width="1.200"/>
<polygon points="691,560.800 699,552 703.500,554 695.500,563" fill="#d0d0ce"/>
<polygon points="704,554.500 712,558 710,561.500 702,557.500" fill="#6a6a68"/>
<!-- body -->
<path d="M651.500 569.500C654 568 660 567.500 664 568.500L682 568.800L691 560.500L706.800 577.500L695 595L680.500 593C670 590 660 586 652 583.500Z" fill="#1f1f1f"/>
<path d="M664 568.800L682 569L691 561" stroke="#4a4a4a" stroke-width="1.200" fill="none"/>
<g stroke="#3a3a3a" stroke-width="1.200"><path d="M655 568.500L654 584"/><path d="M658.500 568.300L657.500 585.500"/><path d="M662 568.300L661 586.800"/></g>
</g>

<g id="antphoto">
<defs>
<clipPath id="apClip"><rect x="631" y="630" width="115.500" height="89.800"/></clipPath>
<radialGradient id="apHole" cx=".42" cy=".4" r=".62"><stop offset="0" stop-color="#86b0a0"/><stop offset=".65" stop-color="#5e8c7c"/><stop offset="1" stop-color="#3a5e52"/></radialGradient>
<linearGradient id="apBeige" x1="0" y1="0" x2="1" y2="0"><stop offset="0" stop-color="#6e6858"/><stop offset=".35" stop-color="#d8d0bc"/><stop offset=".7" stop-color="#b8b09a"/><stop offset="1" stop-color="#7a7462"/></linearGradient>
<linearGradient id="apPlate" x1="0" y1="0" x2="1" y2="0"><stop offset="0" stop-color="#242424"/><stop offset=".5" stop-color="#2e2e2e"/><stop offset="1" stop-color="#404040"/></linearGradient>
</defs>
<g clip-path="url(#apClip)">
<rect x="631" y="630" width="115.500" height="89.800" fill="#1c1c1c"/>
<!-- main plate -->
<polygon points="631,682 660,668 676,652 700,630 746.500,630 746.500,719.800 631,719.800" fill="url(#apPlate)"/>
<!-- upper-right panel -->
<polygon points="700,630 746.500,630 746.500,676" fill="#3e3e3e"/>
<polygon points="726,630 746.500,630 746.500,648" fill="#5c5c5c"/>
<path d="M700.500 630L746.500 675.500" stroke="#585858" stroke-width="1.200"/>
<path d="M713 640.600L725.400 631.700" stroke="#0e0e0e" stroke-width="4.200" stroke-linecap="round"/>
<path d="M728.800 653L740.500 645.400" stroke="#0e0e0e" stroke-width="4.200" stroke-linecap="round"/>
<!-- upper-left dark recess + bracket -->
<polygon points="631,630 662,630 668,652 648,664 631,672" fill="#161616"/>
<polygon points="631,648 650,638 656,652 631,666" fill="#0e0e0e"/>
<path d="M646 634L650 648L656.500 651.500L653 637Z" fill="#4a4a4a"/>
<path d="M646 634L650 648" stroke="#b0b0b0" stroke-width="1.200"/>
<path d="M646 634L653 637" stroke="#8a8a8a" stroke-width="1"/>
<!-- white marks -->
<ellipse cx="637.500" cy="679" rx="5.200" ry="2.800" fill="#e6e6e2" transform="rotate(-38 637.500 679)"/>
<ellipse cx="652.500" cy="665.800" rx="3.800" ry="2.300" fill="#c8c8c0" transform="rotate(-48 652.500 665.800)"/>
<!-- dark curve bottom-left -->
<path d="M654 719.800C656 700 668 692 680 694L676 702C668 702 664 708 664 719.800Z" fill="#121212"/>
<!-- top beige connector -->
<path d="M662.500 630L686 630L689.500 648C686 654 672 655 668 650Z" fill="url(#apBeige)"/>
<ellipse cx="673.500" cy="632.500" rx="9" ry="4" fill="#e4decc"/>
<ellipse cx="672.500" cy="633.500" rx="2" ry="1.300" fill="#5a5646"/>
<!-- marks -->
<g fill="#8a8a8a"><rect x="703" y="642" width="1.800" height="5"/><rect x="706.500" y="644" width="1.800" height="5"/><rect x="703" y="650" width="5" height="1.500"/></g>
<!-- silver tab -->
<polygon points="717.500,658.500 722.500,655.500 729.500,663 725,666.500" fill="#dcdcdc"/>
<polygon points="725,666.500 729.500,663 736,667 728,676" fill="#161616"/>
<!-- raised ring around hole -->
<path d="M668 664C676 652 700 650 710 662C716 670 716 684 708 694C700 702 680 702 672 694C664 686 662 674 668 664Z" fill="#2c2c2c"/>
<circle cx="690" cy="676" r="19" fill="#1e1e1e"/>
<circle cx="690" cy="675.500" r="16.800" fill="#8c9c94"/>
<circle cx="690.300" cy="676" r="15.200" fill="url(#apHole)"/>
<path d="M676.500 674A13.500 13.500 0 0 0 703.800 678A14 10.500 0 0 1 676.500 674Z" fill="#3e665a"/>
<ellipse cx="694.500" cy="681.500" rx="3.800" ry="3.200" fill="#14201c"/>
<circle cx="699.800" cy="678" r="1.500" fill="#14201c"/>
<circle cx="687" cy="687.500" r="1.200" fill="#14201c"/>
<!-- lower marks -->
<g fill="#a0a0a0"><rect x="659" y="699" width="2.200" height="6.500" transform="rotate(-40 660 702)"/><rect x="666" y="703" width="2.200" height="6.500" transform="rotate(-40 667 706)"/><rect x="660" y="707" width="1.800" height="5" transform="rotate(-40 661 709)"/></g>
<!-- bottom beige -->
<ellipse cx="684" cy="722" rx="13.500" ry="9" fill="#c8c0aa"/>
<ellipse cx="684" cy="723.500" rx="10" ry="6" fill="#ece6d6"/>
</g>
</g>

</g>

<!-- ===== GREEN LEADER LINES ===== -->
<g id="lines">
<path class="g" d="M331 175V238"/>
<path class="g" d="M38 257V339.5H98"/>
<path class="g" d="M77 289V319.5H93"/>
<path class="g" d="M90 414.3H148"/>
<path class="g" d="M177 458L269.5 615"/>
<path class="g" d="M280 483V612.5"/>
<path class="g" d="M388 520L289.5 615"/>
<path class="g" d="M699.7 180V261.7H635"/>
<path class="g" d="M569 356H683.7V393.5"/>
<path class="g" d="M689.8 581V621.5"/>

</g>

<!-- ===== TEXT ===== -->
<g id="text">
<text class="t" font-size="15.2" x="255.7" y="53.9" textLength="143" lengthAdjust="spacingAndGlyphs">Connect the car radio</text>
<text class="t" font-size="15.2" x="285" y="69.6" textLength="87.8" lengthAdjust="spacingAndGlyphs">power socket</text>
<text class="t" font-size="15.7" x="658.7" y="174.1" textLength="78" lengthAdjust="spacingAndGlyphs">Canbus box</text>
<text class="t" font-size="15.7" x="19" y="251.3" textLength="57" lengthAdjust="spacingAndGlyphs">AUX R IN</text>
<text class="t" font-size="15.7" x="51" y="285.3" textLength="56.4" lengthAdjust="spacingAndGlyphs">AUX L IN</text>
<text class="t" font-size="15.7" x="28.4" y="420.6" textLength="57.2" lengthAdjust="spacingAndGlyphs">REVERSE</text>

<text class="t" font-size="15.7" x="640" y="407.3" textLength="81" lengthAdjust="spacingAndGlyphs">Connect the</text>
<text class="t" font-size="15.7" x="629" y="425.9" textLength="107" lengthAdjust="spacingAndGlyphs">original car plug</text>
<text class="t" font-size="11.8" x="636" y="444.7" textLength="94" lengthAdjust="spacingAndGlyphs">If your car has the</text>
<text class="t" font-size="11.8" x="620.4" y="458.7" textLength="128" lengthAdjust="spacingAndGlyphs">corresponding size plug</text>
<text class="t" font-size="11.8" x="640" y="472.3" textLength="89.6" lengthAdjust="spacingAndGlyphs">connect it, if not,</text>
<text class="t" font-size="11.8" x="641" y="485.9" textLength="90" lengthAdjust="spacingAndGlyphs">you don't need it</text>

<text class="t" font-size="15.7" x="235.6" y="634.3" textLength="80.4" lengthAdjust="spacingAndGlyphs">Connect the</text>
<text class="t" font-size="15.7" x="224" y="653.3" textLength="107" lengthAdjust="spacingAndGlyphs">original car plug</text>
<text class="t" font-size="11.8" x="231.6" y="671.9" textLength="93.4" lengthAdjust="spacingAndGlyphs">If your car has the</text>
<text class="t" font-size="11.8" x="215.6" y="685.9" textLength="128" lengthAdjust="spacingAndGlyphs">corresponding size plug</text>
<text class="t" font-size="11.8" x="235.6" y="699.3" textLength="89.4" lengthAdjust="spacingAndGlyphs">connect it, if not,</text>
<text class="t" font-size="11.8" x="236.4" y="712.7" textLength="90" lengthAdjust="spacingAndGlyphs">you don't need it</text>

<text class="t" font-size="14.8" x="641" y="737.9" textLength="106" lengthAdjust="spacingAndGlyphs" xml:space="preserve" style="white-space:pre">Connect the  car</text>
<text class="t" font-size="14.8" x="633" y="756.3" textLength="121.7" lengthAdjust="spacingAndGlyphs">radio raceiver hole</text>

</g>
</svg>
</body>
</html>
